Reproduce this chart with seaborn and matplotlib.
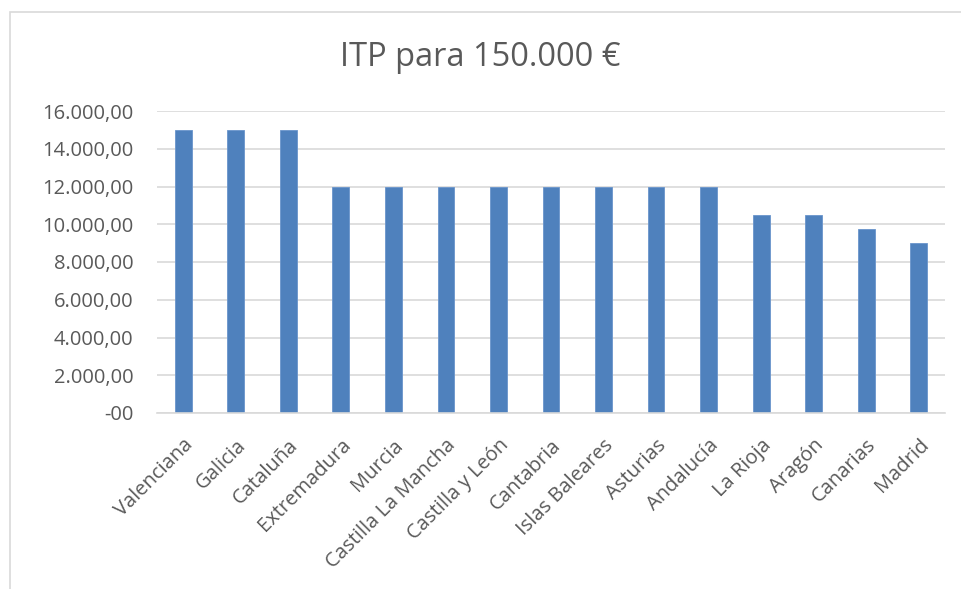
import matplotlib
matplotlib.use('Agg')
import matplotlib.pyplot as plt
from matplotlib.ticker import FuncFormatter, MultipleLocator
from matplotlib.patches import Rectangle
import seaborn as sns
import pandas as pd

regions = ['Valenciana', 'Galicia', 'Cataluña', 'Extremadura', 'Murcia',
           'Castilla La Mancha', 'Castilla y León', 'Cantabria', 'Islas Baleares',
           'Asturias', 'Andalucía', 'La Rioja', 'Aragón', 'Canarias', 'Madrid']
itp = [15000, 15000, 15000, 12000, 12000, 12000, 12000, 12000, 12000,
       12000, 12000, 10500, 10500, 9750, 9000]

df = pd.DataFrame({'region': regions, 'itp': itp})

sns.set_style('white')
plt.rcParams['font.family'] = ['Open Sans', 'DejaVu Sans']

fig = plt.figure(figsize=(9.61, 5.89), dpi=100)
ax = fig.add_axes([157 / 961, 1 - 413 / 589, 788 / 961, 302 / 589])

sns.barplot(data=df, x='region', y='itp', color='#4f81bd', width=0.32, ax=ax,
            saturation=1, edgecolor='#6a95cc', linewidth=0.6)


def es_fmt(v, pos):
    # excel-style spanish number format, zero shows as "-00"
    if v == 0:
        return '-00'
    s = f'{v:,.2f}'
    return s.replace(',', 'X').replace('.', ',').replace('X', '.')


ax.set_ylim(0, 16000)
ax.yaxis.set_major_locator(MultipleLocator(2000))
ax.yaxis.set_major_formatter(FuncFormatter(es_fmt))
ax.set_xlim(-0.5, len(regions) - 0.5)
ax.grid(axis='y', color='#d9d9d9', linewidth=1.2)
ax.set_axisbelow(True)
for side in ['top', 'right', 'left']:
    ax.spines[side].set_visible(False)
ax.spines['bottom'].set_color('#d9d9d9')
ax.spines['bottom'].set_linewidth(1.2)
ax.tick_params(axis='y', length=0, labelsize=14.5, colors='#595959', pad=17)
ax.tick_params(axis='x', length=0, labelsize=14.5, colors='#595959', pad=16)
plt.setp(ax.get_xticklabels(), rotation=45, ha='right', rotation_mode='anchor')
ax.set_xlabel('')
ax.set_ylabel('')

fig.text(0.5, 1 - 58 / 589, 'ITP para 150.000 €', ha='center', va='center',
         fontsize=23.5, color='#595959')

# chart area border
fig.patches.append(Rectangle((10 / 961, -0.02), 1.0, 1 - 12 / 589 + 0.02,
                             transform=fig.transFigure, fill=False,
                             edgecolor='#d9d9d9', linewidth=1.2))

plt.savefig('out.png', dpi=100)
plt.close()
